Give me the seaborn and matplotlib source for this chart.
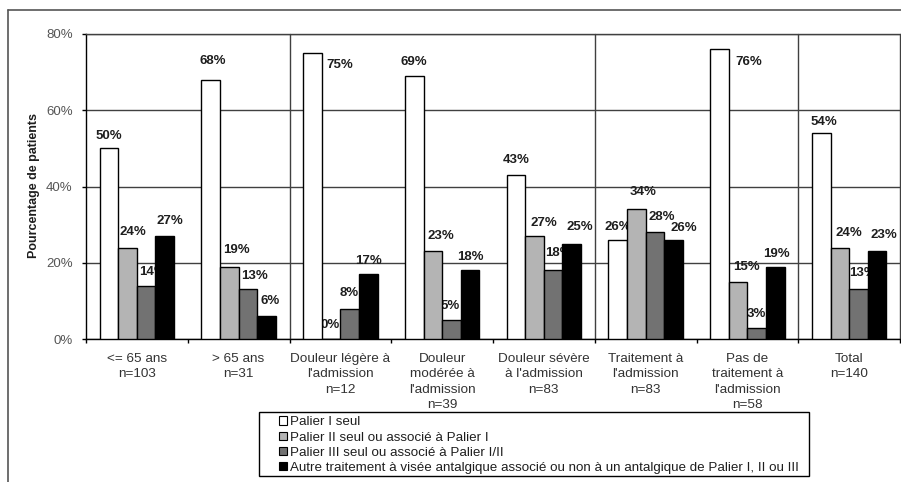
import numpy as np
import pandas as pd
import matplotlib
matplotlib.use("Agg")
import matplotlib.pyplot as plt
from matplotlib.lines import Line2D
from matplotlib.patches import Patch, Rectangle
import seaborn as sns

# ---- data -------------------------------------------------------------
categories = [
    "<= 65 ans\nn=103",
    "> 65 ans\nn=31",
    "Douleur légère à\nl'admission\nn=12",
    "Douleur\nmodérée à\nl'admission\nn=39",
    "Douleur sévère\nà l'admission\nn=83",
    "Traitement à\nl'admission\nn=83",
    "Pas de\ntraitement à\nl'admission\nn=58",
    "Total\nn=140",
]
series = [
    "Palier I seul",
    "Palier II seul ou associé à Palier I",
    "Palier III seul ou associé à Palier I/II",
    "Autre traitement à visée antalgique associé ou non à un antalgique de Palier I, II ou III",
]
palier1 = [50, 68, 75, 69, 43, 26, 76, 54]
palier2 = [24, 19, 0, 23, 27, 34, 15, 24]
palier3 = [14, 13, 8, 5, 18, 28, 3, 13]
autre = [27, 6, 17, 18, 25, 26, 19, 23]
yticks = [0, 20, 40, 60, 80]

values = [palier1, palier2, palier3, autre]
colors = ["#ffffff", "#b4b4b4", "#727272", "#000000"]

# label placement: (dx, dy) in pixels from the top centre of each bar
label_offsets = [
    [(0, 12), (2, 19), (27, -12), (0, 14), (0, 15), (0, 13), (29, -13), (3, 11)],
    [(5, 16), (7, 17), (-1, 14), (8, 15), (9, 13), (7, 17), (8, 15), (9, 15)],
    [(6, 14), (7, 13), (0, 16), (-1, 14), (5, 17), (7, 15), (0, 14), (4, 16)],
    [(5, 15), (4, 15), (0, 13), (0, 13), (8, 17), (10, 12), (1, 13), (7, 16)],
]

df = pd.DataFrame({
    "cat": list(categories) * len(series),
    "serie": np.repeat(series, len(categories)),
    "pct": np.concatenate(values),
})

# ---- figure -----------------------------------------------------------
sns.set_theme(style="white")
plt.rcParams["font.family"] = ["Liberation Sans", "DejaVu Sans"]

W, H = 901, 482
fig = plt.figure(figsize=(W / 100, H / 100), dpi=100)
fig.patch.set_facecolor("white")
ax = fig.add_axes([86 / W, 1 - 339 / H, 814 / W, 305 / H])
ax.set_facecolor("white")

grid_col = "#404040"
ax.yaxis.grid(True, color=grid_col, linewidth=1.0, zorder=0)
ax.set_axisbelow(True)

sns.barplot(
    data=df, x="cat", y="pct", hue="serie", hue_order=series,
    order=categories, palette=colors, saturation=1, width=0.73,
    edgecolor="black", linewidth=1.0, errorbar=None, legend=False,
    ax=ax, zorder=3,
)

# vertical separators between groups of categories
for xb in [1.5, 4.5, 6.5, 7.5]:
    ax.axvline(xb, color=grid_col, linewidth=1.0, zorder=1, clip_on=False)

ax.set_xlim(-0.5, 7.5)
ax.set_ylim(0, 80)

# value labels (sit beneath the bars, above the grid)
for s, cont in enumerate(ax.containers):
    for c, bar in enumerate(cont):
        v = values[s][c]
        dx, dy = label_offsets[s][c]
        ax.annotate(
            f"{v}%",
            xy=(bar.get_x() + bar.get_width() / 2, v),
            xytext=(dx * 0.72, dy * 0.72), textcoords="offset points",
            ha="center", va="center", fontsize=9.5, fontweight="bold",
            color="#1e1e1e", zorder=2.5,
        )

# axes styling
ax.spines["right"].set_visible(False)
ax.spines["top"].set_color(grid_col)
ax.spines["top"].set_linewidth(1.0)
for side in ["left", "bottom"]:
    ax.spines[side].set_color("black")
    ax.spines[side].set_linewidth(1.0)

ax.set_yticks(yticks)
ax.set_yticklabels([f"{t}%" for t in yticks])
ax.tick_params(axis="y", direction="out", length=3, width=1, color="black",
               pad=6.5, labelsize=9.5, labelcolor="#555555", left=True)

ax.set_xticks(np.arange(-0.5, 8, 1))
ax.set_xticklabels([])
ax.set_xticks(range(len(categories)), minor=True)
ax.set_xticklabels(categories, minor=True, fontsize=9.7, color="#333333",
                   linespacing=1.38)
ax.tick_params(axis="x", which="major", direction="out", length=3, width=1,
               color="black", bottom=True)
ax.tick_params(axis="x", which="minor", length=0, pad=10.0)
ax.set_xlabel("")
ax.set_ylabel("")

fig.text(34 / W, 1 - 186 / H, "Pourcentage de patients", rotation=90,
         ha="center", va="center", fontsize=9, fontweight="bold", color="#1e1e1e")

# legend: entries without frame, boxed by a separate rectangle
fig.add_artist(Rectangle((259 / W, 1 - 476 / H), 550 / W, 64 / H,
                         transform=fig.transFigure, facecolor="white",
                         edgecolor="black", linewidth=1.0, zorder=1))
handles = [Patch(facecolor=col, edgecolor="black", linewidth=0.8) for col in colors]
leg = fig.legend(
    handles, series, loc="upper left",
    bbox_to_anchor=(276 / W, 1 - 413 / H), ncol=1, fontsize=9.6,
    frameon=False, borderpad=0.25, labelspacing=0.24, handlelength=0.6,
    handleheight=0.6, handletextpad=0.2, borderaxespad=0,
)
leg.set_zorder(2)
for t in leg.get_texts():
    t.set_color("#1e1e1e")

# outer chart frame
fig.add_artist(Line2D([8 / W, 1], [1 - 10 / H, 1 - 10 / H], color="#555555",
                      linewidth=1.2, transform=fig.transFigure))
fig.add_artist(Line2D([8 / W, 8 / W], [0, 1 - 10 / H], color="#555555",
                      linewidth=1.2, transform=fig.transFigure))

fig.savefig("out.png", dpi=100)
